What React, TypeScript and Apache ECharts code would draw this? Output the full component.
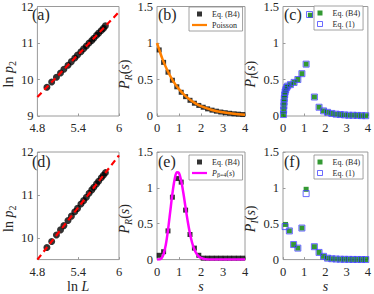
import React, { useEffect, useRef } from "react";
import * as echarts from "echarts";

// ---------- data ----------
// panels (a) and (d): ln L vs ln p2
const lnL = [4.94, 5.01, 5.08, 5.14, 5.19, 5.25, 5.3, 5.35, 5.39, 5.44, 5.48, 5.52, 5.56, 5.6, 5.63, 5.67, 5.7, 5.74, 5.77, 5.8];
const lnP2A = [9.79, 9.93, 10.06, 10.18, 10.28, 10.39, 10.49, 10.59, 10.67, 10.76, 10.84, 10.92, 11.0, 11.07, 11.13, 11.21, 11.27, 11.34, 11.4, 11.47];
const lnP2D = [9.78, 9.92, 10.07, 10.19, 10.29, 10.41, 10.51, 10.61, 10.69, 10.79, 10.87, 10.95, 11.04, 11.12, 11.18, 11.26, 11.32, 11.4, 11.46, 11.52];
const fitX = [4.8, 6];
const fitA = [9.52, 11.85];
const fitD = [9.5, 11.92];

// panels (b), (e): P_R(s)
const sSq = [0.1, 0.3, 0.5, 0.7, 0.9, 1.1, 1.3, 1.5, 1.7, 1.9, 2.1, 2.3, 2.5, 2.7, 2.9, 3.1, 3.3, 3.5, 3.7, 3.9];
const bB4 = [0.905, 0.735, 0.6, 0.49, 0.4, 0.325, 0.265, 0.215, 0.175, 0.145, 0.12, 0.098, 0.08, 0.066, 0.054, 0.045, 0.037, 0.03, 0.025, 0.02];
const poisS = [0, 0.25, 0.5, 0.75, 1, 1.25, 1.5, 1.75, 2, 2.5, 3, 3.5, 4];
const poisP = [1, 0.779, 0.607, 0.472, 0.368, 0.287, 0.223, 0.174, 0.135, 0.082, 0.05, 0.03, 0.018];
const eB4 = [0.06, 0.11, 0.4, 0.87, 1.13, 1.08, 0.69, 0.35, 0.16, 0.06, 0.02, 0.02, 0.02, 0.02, 0.02, 0.02, 0.02, 0.02, 0.02, 0.02];
const wdS = [0, 0.1, 0.2, 0.3, 0.4, 0.5, 0.6, 0.7, 0.8, 0.9, 1.0, 1.1, 1.2, 1.3, 1.4, 1.5, 1.6, 1.7, 1.8, 1.9, 2.0, 2.2, 2.5, 3, 4];
const wdP = [0, 0.001, 0.017, 0.077, 0.207, 0.412, 0.665, 0.919, 1.116, 1.217, 1.206, 1.098, 0.924, 0.722, 0.527, 0.361, 0.231, 0.14, 0.08, 0.043, 0.022, 0.005, 0.0003, 0, 0];

// panels (c), (f): P_I(s)
const cS = [0.02, 0.03, 0.04, 0.05, 0.06, 0.08, 0.1, 0.13, 0.17, 0.22, 0.35, 0.52, 0.7, 0.89, 1.09, 1.29, 1.48, 1.7, 1.91, 2.1, 2.3, 2.5, 2.7, 2.9, 3.1, 3.3, 3.5, 3.7, 3.9];
const cB4 = [0.02, 0.08, 0.14, 0.19, 0.24, 0.29, 0.33, 0.36, 0.39, 0.41, 0.43, 0.46, 0.5, 0.58, 0.71, 1.38, 0.26, 0.12, 0.07, 0.05, 0.035, 0.025, 0.02, 0.015, 0.01, 0.01, 0.008, 0.005, 0.004];
const cEq1S = [0.02, 0.03, 0.04, 0.05, 0.06, 0.08, 0.1, 0.13, 0.17, 0.22, 0.35, 0.52, 0.7, 0.89, 1.09, 1.25, 1.48, 1.7, 1.91, 2.1, 2.3, 2.5, 2.7, 2.9, 3.1, 3.3, 3.5, 3.7, 3.9];
const cEq1 = [0.02, 0.08, 0.14, 0.19, 0.24, 0.29, 0.33, 0.36, 0.39, 0.41, 0.43, 0.46, 0.5, 0.58, 0.71, 1.39, 0.26, 0.12, 0.07, 0.05, 0.035, 0.025, 0.02, 0.015, 0.01, 0.01, 0.008, 0.005, 0.004];
const fS = [0.12, 0.3, 0.5, 0.7, 0.89, 1.09, 1.48, 1.7, 1.91, 2.1, 2.3, 2.5, 2.7, 2.9, 3.1, 3.3, 3.5, 3.7, 3.9];
const fB4 = [0.49, 0.4, 0.21, 0.16, 0.44, 0.98, 0.18, 0.1, 0.045, 0.02, 0.012, 0.008, 0.005, 0.004, 0.003, 0.002, 0.002, 0.001, 0.001];
const fEq1S = [0.1, 0.3, 0.5, 0.7, 0.89, 1.09, 1.48, 1.7, 1.91, 2.1, 2.3, 2.5, 2.7, 2.9, 3.1, 3.3, 3.5, 3.7, 3.9];
const fEq1 = [0.46, 0.4, 0.21, 0.16, 0.44, 0.92, 0.18, 0.1, 0.045, 0.02, 0.012, 0.008, 0.005, 0.004, 0.003, 0.002, 0.002, 0.001, 0.001];

const panelLabels = ["(a)", "(b)", "(c)", "(d)", "(e)", "(f)"];

// ---------- styling ----------
const SERIF = "'Liberation Serif', 'DejaVu Serif', serif";
const TXT = "#262626";
const BOX = "#9a9a9a";
const GREEN = "#007f00";
const BLUE = "#4646ff";
const SQUARE = "path://M0,0L10,0L10,10L0,10Z";
const BAR = "path://M0,0L20,0L20,3L0,3Z";

const zip = (xs: number[], ys: number[]) => xs.map((x, i) => [x, ys[i]]);

function rich(size: number) {
  const sub = Math.round(size * 0.7);
  return {
    r: { fontSize: size, fontFamily: SERIF, color: TXT },
    i: { fontSize: size, fontFamily: SERIF, fontStyle: "italic", color: TXT },
    sub: { fontSize: sub, fontFamily: SERIF, color: TXT, verticalAlign: "bottom", padding: [Math.round(size * 0.55), 0, 0, 0] },
    subi: { fontSize: sub, fontFamily: SERIF, fontStyle: "italic", color: TXT, verticalAlign: "bottom", padding: [Math.round(size * 0.55), 0, 0, 0] },
  };
}

const COLS = [31, 157, 283];
const ROWS = [5, 152];
const W = 88;
const H = 111;

export default function App() {
  const ref = useRef<HTMLDivElement>(null);
  useEffect(() => {
    document.body.style.margin = "0";
    if (!ref.current) return;
    const chart = echarts.init(ref.current, undefined, { renderer: "svg" });

    const grids: any[] = [];
    for (let r = 0; r < 2; r++)
      for (let c = 0; c < 3; c++)
        grids.push({ left: COLS[c], top: ROWS[r], width: W, height: H, show: true, borderColor: BOX, borderWidth: 1, backgroundColor: "#fff" });

    const axisCommon = {
      axisLine: { show: false },
      axisTick: { show: true, inside: true, length: 2.5, lineStyle: { color: BOX } },
      splitLine: { show: false },
      axisLabel: { fontSize: 12.5, lineHeight: 12, fontFamily: SERIF, color: TXT, margin: 4 },
    };
    const xLabel = { ...axisCommon.axisLabel, margin: 6 };
    const xName = (name: string) => ({
      name, nameLocation: "middle", nameGap: 18,
      nameTextStyle: { fontSize: 14, fontFamily: SERIF, color: TXT, rich: rich(14) },
    });
    const yName = (name: string, gap: number) => ({
      name, nameLocation: "middle", nameGap: gap,
      nameTextStyle: { fontSize: 14, fontFamily: SERIF, color: TXT, rich: rich(14), padding: [0, 26, 0, 0] },
    });

    const xAxes: any[] = [];
    const yAxes: any[] = [];
    for (let r = 0; r < 2; r++) {
      const g0 = r * 3;
      xAxes.push({ type: "value", gridIndex: g0, min: 4.8, max: 6, interval: 0.6, ...axisCommon, axisLabel: xLabel, ...(r === 1 ? xName("{r|ln }{i|L}") : {}) });
      xAxes.push({ type: "value", gridIndex: g0 + 1, min: 0, max: 4, interval: 1, ...axisCommon, axisLabel: xLabel, ...(r === 1 ? xName("{i|s}") : {}) });
      xAxes.push({ type: "value", gridIndex: g0 + 2, min: 0, max: 4, interval: 1, ...axisCommon, axisLabel: xLabel, ...(r === 1 ? xName("{i|s}") : {}) });
      if (r === 0) {
        yAxes.push({ type: "value", gridIndex: g0, min: 9, max: 12, interval: 1, ...axisCommon, ...yName("{r|ln }{i|p}{sub|2}", 18) });
      } else {
        yAxes.push({
          type: "value", gridIndex: g0, min: 9.5, max: 12, ...axisCommon,
          axisLabel: { ...axisCommon.axisLabel, customValues: [10, 11, 12] },
          axisTick: { ...axisCommon.axisTick, customValues: [10, 11, 12] },
          ...yName("{r|ln }{i|p}{sub|2}", 18),
        });
      }
      yAxes.push({ type: "value", gridIndex: g0 + 1, min: 0, max: 1.5, interval: 0.5, ...axisCommon, ...yName("{i|P}{subi|R}{r|(}{i|s}{r|)}", 21) });
      yAxes.push({ type: "value", gridIndex: g0 + 2, min: 0, max: 1.5, interval: 0.5, ...axisCommon, ...yName("{i|P}{subi|I}{r|(}{i|s}{r|)}", 21) });
    }

    const circles = (idx: number, ys: number[]) => ({
      type: "scatter", xAxisIndex: idx, yAxisIndex: idx, data: zip(lnL, ys),
      symbol: "circle", symbolSize: 7, itemStyle: { color: "#000" }, z: 2,
    });
    const fit = (idx: number, ys: number[]) => ({
      type: "line", xAxisIndex: idx, yAxisIndex: idx, data: zip(fitX, ys), symbol: "none",
      lineStyle: { color: "#ff0000", width: 2.2, type: [6, 4] }, z: 3,
    });
    const blackSq = (idx: number, ys: number[]) => ({
      name: "Eq. (B4)", type: "scatter", xAxisIndex: idx, yAxisIndex: idx, data: zip(sSq, ys),
      symbol: "rect", symbolSize: 5, itemStyle: { color: "#000" }, z: 2,
    });
    const curve = (idx: number, name: string, xs: number[], ys: number[], color: string) => ({
      name, type: "line", xAxisIndex: idx, yAxisIndex: idx, data: zip(xs, ys), symbol: "none", smooth: 0.3,
      lineStyle: { color, width: 2.5 }, itemStyle: { color }, z: 3,
    });
    const greenSq = (idx: number, xs: number[], ys: number[]) => ({
      name: "Eq. (B4)", type: "scatter", xAxisIndex: idx, yAxisIndex: idx, data: zip(xs, ys),
      symbol: "rect", symbolSize: 5, itemStyle: { color: GREEN }, z: 2,
    });
    const blueSq = (idx: number, xs: number[], ys: number[]) => ({
      name: "Eq. (1)", type: "scatter", xAxisIndex: idx, yAxisIndex: idx, data: zip(xs, ys),
      symbol: "rect", symbolSize: 6, itemStyle: { color: "rgba(0,0,0,0)", borderColor: BLUE, borderWidth: 1 }, z: 3,
    });

    const series = [
      circles(0, lnP2A), fit(0, fitA),
      blackSq(1, bB4), curve(1, "Poisson", poisS, poisP, "#ff8000"),
      greenSq(2, cS, cB4), blueSq(2, cEq1S, cEq1),
      circles(3, lnP2D), fit(3, fitD),
      blackSq(4, eB4), curve(4, "Pβ4", wdS, wdP, "#ff00ff"),
      greenSq(5, fS, fB4), blueSq(5, fEq1S, fEq1),
    ];

    const legendBase = {
      orient: "vertical", selectedMode: false, itemWidth: 15, itemHeight: 5, itemGap: 3,
      symbolKeepAspect: true,
      padding: [3, 3, 2, 3], borderColor: "#8a8a8a", borderWidth: 0.8, backgroundColor: "#fff",
      textStyle: { fontSize: 8, fontFamily: SERIF, color: TXT, rich: rich(8) },
      formatter: (n: string) => (n === "Pβ4" ? "{i|P}{sub|β=4}{r|(}{i|s}{r|)}" : n),
    };
    const legB = (top: number, name: string, color: string) => ({
      ...legendBase, left: 189, top,
      data: [
        { name: "Eq. (B4)", icon: SQUARE, itemStyle: { color: "#000", borderWidth: 0 } },
        { name, icon: BAR, itemStyle: { color, borderWidth: 0 } },
      ],
    });
    const legC = (top: number) => ({
      ...legendBase, left: 314, top,
      data: [
        { name: "Eq. (B4)", icon: SQUARE, itemStyle: { color: GREEN, borderWidth: 0 } },
        { name: "Eq. (1)", icon: SQUARE, itemStyle: { color: "#fff", borderColor: BLUE, borderWidth: 1 } },
      ],
    });
    const legends = [legB(7, "Poisson", "#ff8000"), legC(6), legB(155, "Pβ4", "#ff00ff"), legC(155)];

    const titles = panelLabels.map((t, i) => ({
      text: t, left: COLS[i % 3] + 1, top: ROWS[Math.floor(i / 3)] + 1, padding: 0,
      textStyle: { fontSize: 16, fontWeight: "normal", fontFamily: SERIF, color: TXT },
    }));

    chart.setOption({
      animation: false,
      title: titles,
      grid: grids,
      xAxis: xAxes,
      yAxis: yAxes,
      legend: legends,
      series,
    });
    return () => chart.dispose();
  }, []);
  return <div ref={ref} style={{ width: 374, height: 294 }} />;
}
